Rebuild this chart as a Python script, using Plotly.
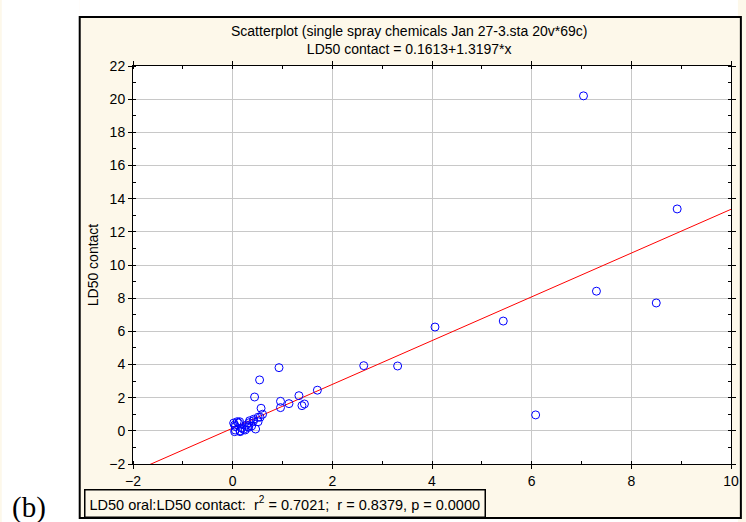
import plotly.graph_objects as go

# Data (LD50 oral vs LD50 contact)
ld50_oral = [7.04, 8.92, 7.30, 8.50, 6.08, 5.43, 4.06, 3.31, 2.63, 1.70,
             0.93, 0.54, 0.44, 1.33, 0.96, 1.13, 0.96, 1.39, 1.44, 0.57,
             0.60, 0.51, 0.04, 0.14, 0.05, 0.15, 0.22, 0.28, 0.34, 0.42,
             0.46, 0.38, 0.51, 0.55, 0.09, 0.25, 0.32, 0.02, 0.05, 0.04,
             0.12, 0.18, 0.33, 0.42, 0.15, 0.30]
ld50_contact = [20.2, 13.38, 8.42, 7.71, 0.96, 6.62, 6.26, 3.91, 3.93, 2.45,
                3.81, 3.07, 2.04, 2.12, 1.78, 1.64, 1.40, 1.52, 1.62, 1.36,
                1.00, 0.82, 0.35, 0.55, 0.05, 0.00, 0.09, 0.35, 0.61, 0.70,
                0.11, 0.29, 0.55, 0.82, 0.55, 0.05, 0.21, 0.47, 0.26, -0.05,
                0.47, 0.17, 0.49, 0.61, -0.05, 0.26]

intercept = 0.1613
slope = 1.3197
fit_x = [-2, 10]
fit_y = [intercept + slope * v for v in fit_x]

x_ticks = [-2, 0, 2, 4, 6, 8, 10]
y_ticks = [-2, 0, 2, 4, 6, 8, 10, 12, 14, 16, 18, 20, 22]

title_text = ("Scatterplot (single spray chemicals Jan 27-3.sta 20v*69c)<br>"
              "LD50 contact = 0.1613+1.3197*x")
stats_text = "LD50 oral:LD50 contact:  r<sup>2</sup> = 0.7021;  r = 0.8379, p = 0.0000"

W, H = 746, 522
L, R, T, B = 133, 7, 66, 58
pw, ph = W - L - R, H - T - B

def px2x(px):
    return (px - L) / pw

def py2y(py):
    return (H - B - py) / ph

cream = "#FDF8EA"
font = "Liberation Sans, Arial, sans-serif"

fig = go.Figure()
fig.add_trace(go.Scatter(x=fit_x, y=fit_y, mode="lines",
                         line=dict(color="#FF0000", width=1), hoverinfo="skip"))
fig.add_trace(go.Scatter(x=ld50_oral, y=ld50_contact, mode="markers",
                         marker=dict(symbol="circle-open", size=8, color="#0000FF",
                                     line=dict(width=1, color="#0000FF"))))

axis_common = dict(showline=True, linecolor="black", linewidth=1, mirror="ticks",
                   ticks="outside", ticklen=4, tickcolor="black",
                   showgrid=True, gridcolor="#C8C8C8", gridwidth=1.3,
                   zeroline=False, tickfont=dict(family=font, size=14, color="black"))

fig.update_xaxes(range=[-2, 10], tickvals=x_ticks,
                 minor=dict(ticks="inside", dtick=1, ticklen=3, tickcolor="black", showgrid=False),
                 **axis_common)
fig.update_yaxes(range=[-2, 22], tickvals=y_ticks,
                 minor=dict(ticks="inside", dtick=1, ticklen=3, tickcolor="black", showgrid=False),
                 title=dict(text="LD50 contact", font=dict(family=font, size=14, color="black"),
                            standoff=7),
                 **axis_common)

shapes = [
    # white area outside the framed panel
    dict(type="rect", xref="paper", yref="paper", x0=px2x(0), x1=px2x(79), y0=py2y(H), y1=py2y(0),
         fillcolor="white", line=dict(width=0), layer="below"),
    dict(type="rect", xref="paper", yref="paper", x0=px2x(79), x1=px2x(W), y0=py2y(17), y1=py2y(0),
         fillcolor="white", line=dict(width=0), layer="below"),
    dict(type="rect", xref="paper", yref="paper", x0=px2x(79), x1=px2x(W), y0=py2y(H), y1=py2y(518),
         fillcolor="white", line=dict(width=0), layer="below"),
    # frame
    dict(type="rect", xref="paper", yref="paper", x0=px2x(79), x1=px2x(W + 3), y0=py2y(518), y1=py2y(17),
         fillcolor="rgba(0,0,0,0)", line=dict(width=2, color="black"), layer="above"),
]

annotations = [
    dict(text=title_text, xref="paper", yref="paper", x=px2x(413), y=py2y(40),
         xanchor="center", yanchor="middle", showarrow=False,
         font=dict(family=font, size=14, color="black"), align="center"),
    dict(text=stats_text, xref="paper", yref="paper", x=px2x(83), y=py2y(503.5),
         xanchor="left", yanchor="middle", showarrow=False,
         font=dict(family=font, size=14.5, color="black"),
         bordercolor="black", borderwidth=1.5, borderpad=4, bgcolor=cream),
    dict(text="(b)", xref="paper", yref="paper", x=px2x(28), y=py2y(507),
         xanchor="center", yanchor="middle", showarrow=False,
         font=dict(family="Liberation Serif, Times New Roman, serif", size=29, color="black")),
]

fig.update_layout(width=W, height=H, margin=dict(l=L, r=R, t=T, b=B, pad=0),
                  paper_bgcolor=cream, plot_bgcolor="white", showlegend=False,
                  shapes=shapes, annotations=annotations)

fig.write_html("out.html", config={"displayModeBar": False},
               post_script="document.body.style.margin='0px';document.body.style.overflow='hidden';")
